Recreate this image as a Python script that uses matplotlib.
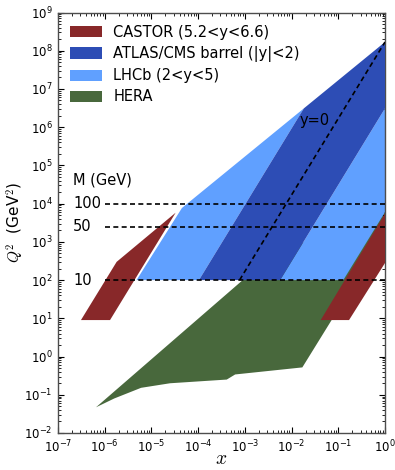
import matplotlib
matplotlib.use("Agg")
import matplotlib.pyplot as plt
from matplotlib.patches import Patch
from matplotlib.ticker import FixedLocator, NullFormatter, LogFormatterSciNotation

plt.rcParams['mathtext.fontset'] = 'cm'
plt.rcParams['font.family'] = ['DejaVu Sans']

# ---- data (x, Q^2) polygon vertices ----
castor_low_x = [3.1e-7, 1.3e-6, 3.3e-5, 1.8e-6]
castor_low_q2 = [9, 9, 5800, 300]
castor_high_x = [0.042, 0.17, 1.0, 1.0]
castor_high_q2 = [9, 9, 280, 5500]

atlas_x = [1.04e-4, 5.7e-3, 1.0, 1.0, 1.83e-2]
atlas_q2 = [100, 100, 3.1e6, 1.69e8, 3.1e6]

lhcb_low_x = [4.8e-6, 4.5e-5, 1.83e-2, 1.04e-4]
lhcb_low_q2 = [100, 7700, 3.1e6, 100]
lhcb_high_x = [5.7e-3, 0.128, 1.0, 1.0]
lhcb_high_q2 = [100, 100, 6000, 3.1e6]

hera_x = [6.5e-7, 1.6e-6, 6e-6, 2.5e-5, 4.1e-4, 6.2e-4, 1.7e-2, 0.072, 1.0, 1.0, 9e-4]
hera_q2 = [0.047, 0.08, 0.152, 0.2, 0.25, 0.34, 0.52, 9, 1700, 20000, 100]

# y = 0 line: x = M / sqrt(s), Q^2 = M^2
y0_x = [7.7e-4, 1.0]
y0_q2 = [100, 1.69e8]

mass_labels = ["100", "50", "10"]
mass_q2 = [1e4, 2500, 100]
line_xmin, line_xmax = 1e-6, 1.0
label_x = 2.1e-7

x_exponents = list(range(-7, 1))
y_exponents = list(range(-2, 10))

legend_labels = ["CASTOR (5.2<y<6.6)", "ATLAS/CMS barrel (|y|<2)", "LHCb (2<y<5)", "HERA"]
c_castor = '#882829'
c_atlas = '#2D4DB5'
c_lhcb = '#60A0FF'
c_hera = '#48683C'
colors = [c_castor, c_atlas, c_lhcb, c_hera]

fig = plt.figure(figsize=(3.95, 4.7), dpi=100)
ax = fig.add_axes([58/395, 1-433/470, 327/395, 420.5/470])
ax.set_xscale('log')
ax.set_yscale('log')

ax.fill(hera_x, hera_q2, color=c_hera, lw=0, zorder=1)
ax.fill(lhcb_low_x, lhcb_low_q2, color=c_lhcb, lw=0, zorder=2)
ax.fill(lhcb_high_x, lhcb_high_q2, color=c_lhcb, lw=0, zorder=2)
ax.fill(atlas_x, atlas_q2, color=c_atlas, lw=0, zorder=3)
ax.fill(castor_low_x, castor_low_q2, color=c_castor, lw=0, zorder=4)
ax.fill(castor_high_x, castor_high_q2, color=c_castor, lw=0, zorder=4)

for lab, q in zip(mass_labels, mass_q2):
    ax.plot([line_xmin, line_xmax], [q, q], color='k', ls=(0, (3, 2)), lw=1.2, zorder=5)
    ax.text(label_x, q, lab, fontsize=10.5, ha='left', va='center', zorder=6)
ax.text(label_x, 4.2e4, "M (GeV)", fontsize=10.5, ha='left', va='center')

ax.plot(y0_x, y0_q2, color='k', ls=(0, (3, 2)), lw=1.2, zorder=5)
ax.text(0.0152, 1.46e6, "y=0", fontsize=10.5, ha='left', va='center', zorder=6)

ax.set_xlim(1e-7, 1)
ax.set_ylim(1e-2, 1e9)

def minor_positions(exps):
    return [m * 10.0 ** e for e in exps[:-1] for m in range(2, 10)]

ax.xaxis.set_major_locator(FixedLocator([10.0 ** e for e in x_exponents]))
ax.yaxis.set_major_locator(FixedLocator([10.0 ** e for e in y_exponents]))
ax.xaxis.set_minor_locator(FixedLocator(minor_positions(x_exponents)))
ax.yaxis.set_minor_locator(FixedLocator(minor_positions(y_exponents)))
for axis in (ax.xaxis, ax.yaxis):
    axis.set_major_formatter(LogFormatterSciNotation())
    axis.set_minor_formatter(NullFormatter())

ax.tick_params(which='both', direction='in', top=True, right=True, labelsize=8.5)
ax.tick_params(which='major', length=4, width=0.8, pad=4)
ax.tick_params(which='minor', length=2, width=0.6)
for sp in ax.spines.values():
    sp.set_color('0.3')
    sp.set_linewidth(1.0)

ax.set_xlabel(r"$x$", fontsize=14, va='center')
ax.xaxis.set_label_coords(0.5, -0.06)
ax.set_ylabel(r"$Q^2$  (GeV$^2$)", fontsize=11, va='center')
ax.yaxis.set_label_coords(-0.131, 0.5)

handles = [Patch(facecolor=c, edgecolor='none') for c in colors]
ax.legend(handles, legend_labels, loc='upper left', bbox_to_anchor=(0.0, 1.0),
          frameon=False, fontsize=10.5, handlelength=2.2, handleheight=0.8,
          handletextpad=0.75, labelspacing=0.42, borderaxespad=0.45, borderpad=0.4)

fig.savefig("out.png", dpi=100)
